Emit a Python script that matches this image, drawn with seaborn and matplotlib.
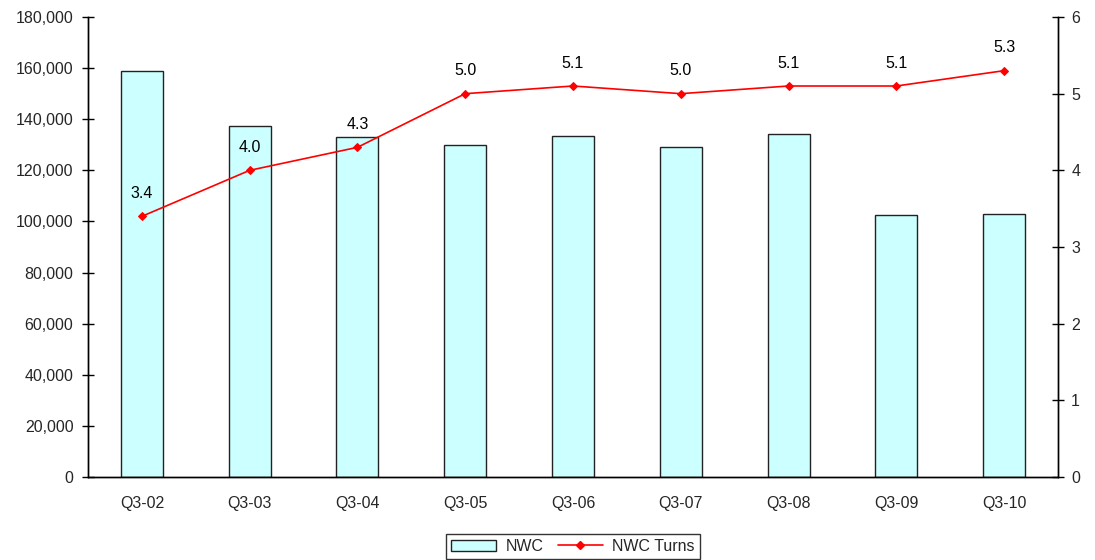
import numpy as np
import pandas as pd
import matplotlib
matplotlib.use("Agg")
import matplotlib.pyplot as plt
from matplotlib.ticker import FuncFormatter, FixedLocator
from matplotlib.lines import Line2D
from matplotlib.patches import Patch
import seaborn as sns

quarters = ["Q3-02", "Q3-03", "Q3-04", "Q3-05", "Q3-06", "Q3-07", "Q3-08", "Q3-09", "Q3-10"]
nwc = [158900, 137300, 133000, 129900, 133400, 129100, 134200, 102500, 102900]
nwc_turns = [3.4, 4.0, 4.3, 5.0, 5.1, 5.0, 5.1, 5.1, 5.3]

sns.set_theme(style="white")
plt.rcParams["font.family"] = ["Liberation Sans", "DejaVu Sans"]
FS = 11.5
plt.rcParams["font.size"] = FS

df = pd.DataFrame({"quarter": quarters, "nwc": nwc, "turns": nwc_turns})

fig = plt.figure(figsize=(10.95, 5.6), dpi=100)
ax = fig.add_axes([88 / 1095, 1 - 477 / 560, (1058 - 88) / 1095, (477 - 17) / 560])

sns.barplot(data=df, x="quarter", y="nwc", ax=ax, color="#CCFFFF", saturation=1,
            width=0.39, edgecolor="#222222", linewidth=1.0)
ax.set_xlim(-0.5, len(quarters) - 0.5)
ax.set_ylim(0, 180000)
ax.set_yticks(np.arange(0, 180001, 20000))
ax.yaxis.set_major_formatter(FuncFormatter(lambda v, p: f"{int(v):,}"))
ax.set_xlabel("")
ax.set_ylabel("")

ax2 = ax.twinx()
positions = np.arange(len(quarters))
sns.lineplot(x=positions, y=nwc_turns, ax=ax2, color="#FF0000", linewidth=1.2,
             marker="D", markersize=4.5, markeredgecolor="#FF0000")
ax2.set_ylim(0, 6)
ax2.set_yticks(range(0, 7))
for xp, v in zip(positions, nwc_turns):
    ax2.annotate(f"{v:.1f}", (xp, v), xytext=(0, 11), textcoords="offset points",
                 ha="center", va="bottom", fontsize=FS, color="black")

for a in (ax, ax2):
    a.spines["top"].set_visible(False)
    for s in ("left", "right", "bottom"):
        a.spines[s].set_color("black")
        a.spines[s].set_linewidth(1.0)
    a.grid(False)

ax.tick_params(axis="y", direction="inout", length=9, width=1, color="black", pad=6, labelsize=FS)
ax2.tick_params(axis="y", direction="inout", length=9, width=1, color="black", pad=5, labelsize=FS)
ax.tick_params(axis="x", which="major", length=0, pad=14, labelsize=FS)
ax.xaxis.set_minor_locator(FixedLocator(np.arange(0.5, len(quarters) - 0.5, 1)))
ax.tick_params(axis="x", which="minor", direction="out", length=5, width=1, color="black")
ax2.set_ylabel("")

handles = [
    Patch(facecolor="#CCFFFF", edgecolor="#222222", linewidth=1.0, label="NWC"),
    Line2D([0], [0], color="#FF0000", linewidth=1.2, marker="D", markersize=4.5, label="NWC Turns"),
]
if ax2.get_legend() is not None:
    ax2.get_legend().remove()
leg = fig.legend(handles=handles, loc="upper center", bbox_to_anchor=(573 / 1095, 1 - 531 / 560),
                 ncol=2, frameon=True, fancybox=False, edgecolor="black", fontsize=FS,
                 handlelength=2.8, handletextpad=0.6, columnspacing=0.9, borderpad=0.3,
                 borderaxespad=0.2)
leg.get_frame().set_linewidth(1.0)

fig.savefig("out.png", dpi=100)
